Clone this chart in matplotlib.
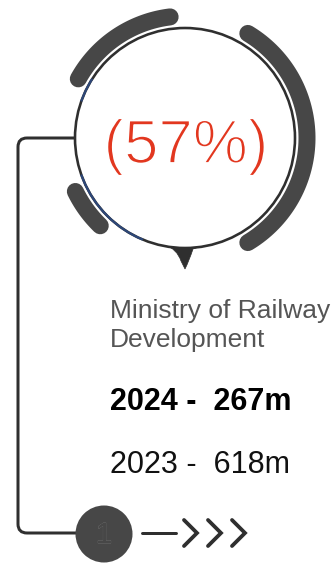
import numpy as np
import matplotlib
matplotlib.use("Agg")
import matplotlib.pyplot as plt
from matplotlib.path import Path
from matplotlib.patches import PathPatch, Circle
import matplotlib.patheffects as pe

# values shown on the card
share_pct = 57
ministry = ["Ministry of Railway", "Development"]
years = [2024, 2023]
amounts_m = [267, 618]
step_no = "1"

# decorative ring segments (degrees, counter-clockwise from 3 o'clock)
ring_starts = [97, -59, 206]
ring_ends = [151, 59, 226]
accent_starts = [148, 200]
accent_ends = [160, 247]

W, H = 333, 563
fig = plt.figure(figsize=(W / 100, H / 100), dpi=100)
ax = fig.add_axes([0, 0, 1, 1])
ax.set_xlim(0, W)
ax.set_ylim(H, 0)
ax.set_aspect("equal")
ax.axis("off")

PX = 72 / 100  # points per pixel
cx, cy, r = 185, 138, 110
ring_r = 122
dark = "#2f2f2f"
grey = "#474747"

# thick ring segments with round ends
for a0, a1 in zip(ring_starts, ring_ends):
    t = np.radians(np.linspace(a0, a1, 80))
    ax.plot(cx + ring_r * np.cos(t), cy - ring_r * np.sin(t), color=grey,
            lw=17 * PX, solid_capstyle="round", zorder=2)

# connector: circle -> left rail -> step badge
k = 9
xl, yb = 18, 533
verts = [(cx - r, cy), (xl + k, cy), (xl, cy), (xl, cy + k),
         (xl, yb - k), (xl, yb), (xl + k, yb), (76, yb)]
codes = [Path.MOVETO, Path.LINETO, Path.CURVE3, Path.CURVE3,
         Path.LINETO, Path.CURVE3, Path.CURVE3, Path.LINETO]
ax.add_patch(PathPatch(Path(verts, codes), fill=False, ec=dark,
                       lw=3 * PX, capstyle="round", zorder=1))

# main circle
ax.add_patch(Circle((cx, cy), r, fc="white", ec=dark, lw=2.6 * PX, zorder=3))
for a0, a1 in zip(accent_starts, accent_ends):
    t = np.radians(np.linspace(a0, a1, 60))
    ax.plot(cx + r * np.cos(t), cy - r * np.sin(t), color="#2d4778",
            lw=2.2 * PX, zorder=4)

# pointer under the circle
by = cy + r - 3
pv = [(cx - 20, by), (cx - 8, by + 4), (cx - 4, by + 16), (cx, by + 24),
      (cx + 4, by + 16), (cx + 8, by + 4), (cx + 20, by), (cx - 20, by)]
pc = [Path.MOVETO, Path.CURVE3, Path.CURVE3, Path.LINETO,
      Path.CURVE3, Path.CURVE3, Path.LINETO, Path.CLOSEPOLY]
ax.add_patch(PathPatch(Path(pv, pc), fc=dark, ec=dark, lw=0.5, zorder=2))

# big percentage, thinned with a white outline drawn over the glyphs
ax.text(cx + 1, 163, f"({share_pct}%)", color="#e2371f", fontsize=44.5,
        family="Liberation Sans", ha="center", va="baseline", zorder=5,
        path_effects=[pe.Normal(),
                      pe.Stroke(linewidth=1.3, foreground="white")])

# labels
tx = 110
ax.text(tx, 318, ministry[0], color="#555555", fontsize=19,
        family="Liberation Sans", va="baseline")
ax.text(tx, 347, ministry[1], color="#555555", fontsize=19,
        family="Liberation Sans", va="baseline")
ax.text(tx, 410, f"{years[0]} -  {amounts_m[0]}m", color="black", fontsize=22,
        family="Liberation Sans", weight="bold", va="baseline")
ax.text(tx, 473, f"{years[1]} -  {amounts_m[1]}m", color="#111111", fontsize=22,
        family="Liberation Sans", va="baseline")

# step badge and arrow
bx, byy = 104, 534
ax.add_patch(Circle((bx, byy), 28.5, fc=grey, ec="none", zorder=3))
ax.text(bx, byy + 1, step_no, color=grey, fontsize=21, family="Liberation Sans",
        ha="center", va="center", zorder=4,
        path_effects=[pe.withStroke(linewidth=0.5, foreground="#7a7a7a"),
                      pe.Normal()])
ax.plot([142, 176], [yb, yb], color=dark, lw=3 * PX, solid_capstyle="round")
for x0 in [184, 208, 232]:
    ax.plot([x0, x0 + 13, x0], [yb - 13, yb, yb + 13], color=dark,
            lw=3.8 * PX, solid_capstyle="round", solid_joinstyle="miter")

fig.savefig("out.png", dpi=100)
